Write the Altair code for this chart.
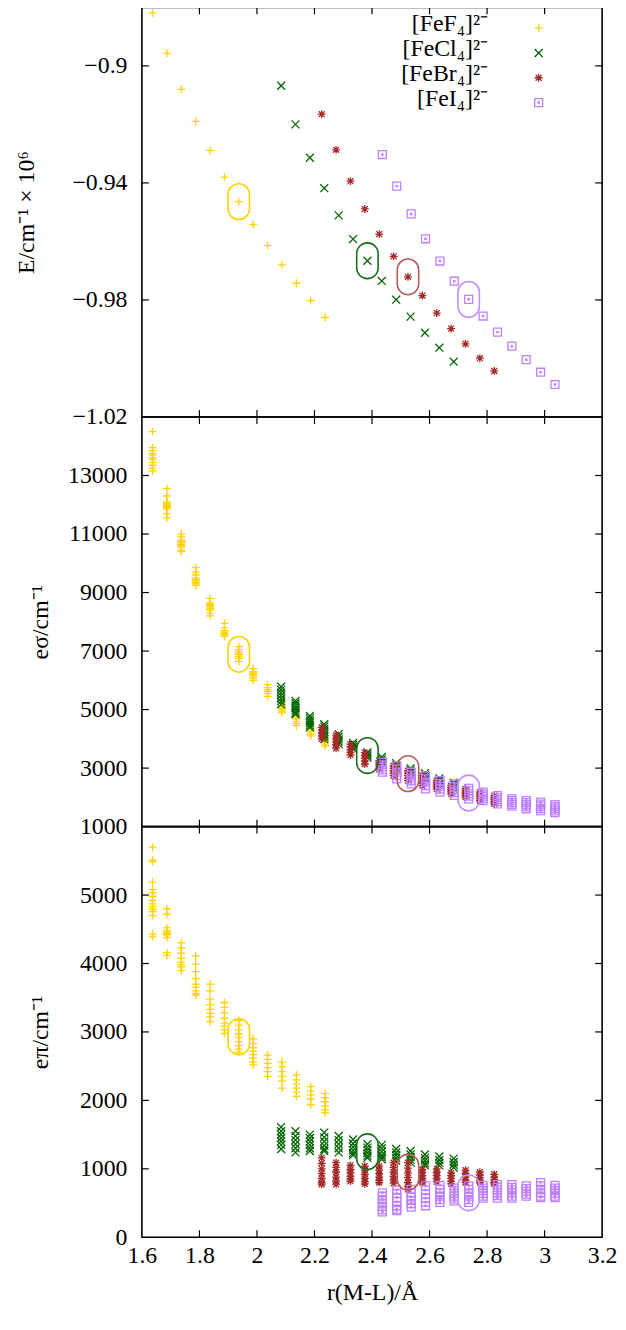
import altair as alt
import pandas as pd

FONT = "Liberation Serif"
SERIES = ["[FeF₄]²⁻", "[FeCl₄]²⁻", "[FeBr₄]²⁻", "[FeI₄]²⁻"]
COLORS = ["#ffd200", "#006400", "#a52a2a", "#bf80ff"]
HL_COLORS = ["#ffd200", "#1a6e1a", "#b85c5c", "#c490ff"]

PLUS = "M -1 0 L 1 0 M 0 -1 L 0 1"
CROSS = "M -1 -1 L 1 1 M -1 1 L 1 -1"
STAR = "M -1 0 L 1 0 M 0 -1 L 0 1 M -0.75 -0.75 L 0.75 0.75 M -0.75 0.75 L 0.75 -0.75"
SQDOT = "M -1 -1 L 1 -1 L 1 1 L -1 1 Z M -0.15 -0.15 L 0.15 -0.15 L 0.15 0.15 L -0.15 0.15 Z"
SHAPES = [PLUS, CROSS, STAR, SQDOT]
STADIUM = "M -0.6 -0.4 A 0.6 0.6 0 0 1 0.6 -0.4 L 0.6 0.4 A 0.6 0.6 0 0 1 -0.6 0.4 Z"

# ---- bond lengths (Angstrom) ----
r_F = [1.637, 1.687, 1.737, 1.787, 1.837, 1.887, 1.937, 1.987, 2.037, 2.087, 2.137, 2.187, 2.237]
r_Cl = [2.084, 2.134, 2.184, 2.234, 2.284, 2.334, 2.384, 2.434, 2.484, 2.534, 2.584, 2.634, 2.684]
r_Br = [2.225, 2.275, 2.325, 2.375, 2.425, 2.475, 2.525, 2.575, 2.625, 2.675, 2.725, 2.775, 2.825]
r_I = [2.436, 2.486, 2.536, 2.586, 2.636, 2.686, 2.736, 2.786, 2.836, 2.886, 2.936, 2.986, 3.036]

# ---- energies (cm^-1 x 10^6) ----
E_F = [-0.8819, -0.8957, -0.9080, -0.9190, -0.9289, -0.9380, -0.9464, -0.9542, -0.9614, -0.9680, -0.9743, -0.9802, -0.9860]
E_Cl = [-0.9068, -0.9200, -0.9314, -0.9418, -0.9511, -0.9592, -0.9666, -0.9735, -0.9799, -0.9857, -0.9912, -0.9963, -1.0011]
E_Br = [-0.9165, -0.9287, -0.9394, -0.9489, -0.9575, -0.9651, -0.9721, -0.9785, -0.9845, -0.9898, -0.9950, -0.9999, -1.0043]
E_I = [-0.9303, -0.9411, -0.9506, -0.9591, -0.9667, -0.9736, -0.9798, -0.9855, -0.9910, -0.9958, -1.0004, -1.0047, -1.0089]

# ---- e_sigma (cm^-1), several fits per bond length ----
es_F = [
    [14500, 13950, 13850, 13750, 13700, 13600, 13550, 13450, 13350, 13250, 13150],
    [12550, 12300, 12100, 12050, 12000, 11950, 11900, 11850, 11700, 11550],
    [11000, 10900, 10800, 10750, 10700, 10650, 10600, 10550, 10450, 10400],
    [9850, 9700, 9600, 9500, 9450, 9400, 9350, 9300, 9250],
    [8800, 8650, 8600, 8550, 8500, 8450, 8400, 8300, 8200],
    [7950, 7800, 7700, 7650, 7600, 7550, 7500],
    [7150, 7050, 6980, 6920, 6880, 6820, 6750, 6650],
    [6400, 6300, 6250, 6200, 6150, 6080, 6000],
    [5850, 5750, 5680, 5620, 5550, 5450],
    [5230, 5150, 5080, 5020, 4950, 4900],
    [4830, 4750, 4680, 4600, 4520, 4450],
    [4440, 4370, 4300, 4230, 4160, 4100],
    [4100, 4030, 3960, 3890, 3820, 3760],
]
es_Cl = [
    [5780, 5680, 5580, 5480, 5380, 5280, 5180],
    [5300, 5220, 5140, 5060, 4980, 4900, 4840],
    [4780, 4700, 4620, 4540, 4460, 4390],
    [4500, 4420, 4330, 4240, 4150, 4070, 3990],
    [4160, 4070, 3980, 3900, 3820],
    [3860, 3790, 3720, 3660],
    [3540, 3480, 3420, 3360],
    [3380, 3300, 3230, 3160],
    [3170, 3100, 3030, 2960],
    [2990, 2920, 2850, 2780],
    [2830, 2760, 2690, 2620],
    [2650, 2580, 2510, 2440],
    [2500, 2430, 2360, 2290],
]
es_Br = [
    [4390, 4300, 4200, 4100, 4000],
    [4130, 4000, 3900, 3800, 3680],
    [3820, 3720, 3630, 3540, 3450],
    [3530, 3430, 3340, 3240, 3140],
    [3250, 3180, 3110, 3040, 2970],
    [3080, 2990, 2910, 2820, 2740],
    [2910, 2830, 2740, 2660, 2570],
    [2740, 2660, 2570, 2490, 2400],
    [2570, 2500, 2430, 2360, 2290],
    [2400, 2330, 2260, 2190, 2120],
    [2290, 2220, 2150, 2080, 2010],
    [2180, 2110, 2040, 1960, 1890],
    [2060, 1990, 1920, 1850, 1780],
]
es_I = [
    [3200, 3110, 3030, 2940, 2860],
    [3080, 2970, 2860, 2750, 2630],
    [2860, 2760, 2660, 2560, 2460],
    [2740, 2630, 2520, 2400, 2290],
    [2570, 2470, 2380, 2280, 2180],
    [2460, 2360, 2260, 2160, 2070],
    [2310, 2220, 2130, 2040, 1950],
    [2180, 2110, 2040, 1960, 1890],
    [2060, 1990, 1920, 1850, 1780],
    [1950, 1890, 1820, 1760, 1700],
    [1890, 1820, 1750, 1680, 1610],
    [1840, 1770, 1700, 1620, 1550],
    [1750, 1680, 1610, 1540, 1480],
]

# ---- e_pi (cm^-1) ----
ep_F = [
    [5700, 5510, 5490, 5190, 5080, 5030, 4980, 4920, 4870, 4830, 4800, 4760, 4700, 4430, 4390],
    [4800, 4720, 4520, 4480, 4460, 4440, 4420, 4380, 4160, 4120],
    [4300, 4230, 4150, 4080, 4020, 3980, 3950, 3900],
    [4110, 3990, 3880, 3780, 3700, 3650, 3600, 3560, 3540],
    [3700, 3600, 3480, 3400, 3330, 3270, 3220, 3150],
    [3430, 3360, 3280, 3200, 3130, 3080, 3030, 2980],
    [3170, 3100, 3030, 2970, 2920, 2860, 2800, 2750, 2710],
    [2900, 2830, 2770, 2720, 2670, 2620, 2560, 2520],
    [2660, 2600, 2540, 2480, 2420, 2350],
    [2560, 2490, 2420, 2350, 2280, 2180],
    [2370, 2300, 2240, 2180, 2120, 2060],
    [2200, 2140, 2080, 2020, 1940],
    [2100, 2040, 1980, 1920, 1860, 1820],
]
ep_Cl = [
    [1610, 1550, 1500, 1450, 1400, 1350, 1290],
    [1550, 1480, 1420, 1360, 1300, 1240],
    [1500, 1450, 1400, 1350, 1300, 1260],
    [1530, 1460, 1400, 1340, 1290, 1260],
    [1480, 1420, 1360, 1300, 1240],
    [1430, 1370, 1320, 1270, 1230, 1200],
    [1360, 1310, 1270, 1230, 1190, 1160],
    [1350, 1300, 1250, 1200, 1170, 1140],
    [1290, 1240, 1200, 1160, 1120],
    [1260, 1210, 1170, 1130, 1090],
    [1210, 1160, 1120, 1080, 1050],
    [1180, 1130, 1090, 1050],
    [1150, 1100, 1060, 1020],
]
ep_Br = [
    [1160, 1080, 1000, 930, 860, 800, 775],
    [1090, 1020, 950, 880, 820, 775],
    [1050, 990, 940, 890, 850, 820],
    [1040, 980, 920, 860, 810, 780],
    [1040, 980, 930, 880, 830, 800],
    [1090, 1020, 950, 890, 840, 790],
    [1090, 1010, 940, 870, 800, 740, 700],
    [990, 940, 900, 860, 820, 800],
    [1000, 950, 900, 860, 810],
    [940, 900, 860, 820, 780],
    [980, 930, 880, 840, 800],
    [950, 910, 870, 830, 800],
    [920, 880, 840, 800, 780],
]
ep_I = [
    [650, 600, 550, 500, 450, 400, 370],
    [690, 640, 580, 520, 460, 410, 390],
    [700, 650, 590, 540, 490, 440],
    [750, 690, 630, 570, 510, 460],
    [760, 700, 650, 600, 550, 510],
    [720, 680, 640, 600, 560, 530],
    [750, 700, 650, 600, 550, 510],
    [760, 720, 680, 640, 600, 570],
    [770, 730, 690, 650, 610, 570],
    [770, 730, 690, 650, 600, 570],
    [750, 710, 670, 630, 600],
    [800, 750, 700, 650, 600, 580],
    [760, 720, 680, 640, 600, 580],
]

# highlighted (reference) points, one per complex
HL_R = [1.937, 2.384, 2.525, 2.736]
HL_E = [-0.9464, -0.9666, -0.9721, -0.9798]
HL_ES = [6890, 3430, 2810, 2150]
HL_EP = [2930, 1250, 950, 650]

X_LABELS = [1.6, 1.8, 2.0, 2.2, 2.4, 2.6, 2.8, 3.0, 3.2]
X_TICKS = [1.8, 2.0, 2.2, 2.4, 2.6, 2.8, 3.0]
Y1_LABELS = [-1.02, -0.98, -0.94, -0.9]
Y1_TICKS = [-0.98, -0.94, -0.9]
Y2_LABELS = [1000, 3000, 5000, 7000, 9000, 11000, 13000]
Y2_TICKS = [3000, 5000, 7000, 9000, 11000, 13000]
Y3_LABELS = [0, 1000, 2000, 3000, 4000, 5000]
Y3_TICKS = [1000, 2000, 3000, 4000, 5000]

R_ALL = [r_F, r_Cl, r_Br, r_I]


def scalar_df(vals):
    rows = []
    for s, rs, vs in zip(SERIES, R_ALL, vals):
        for r, v in zip(rs, vs):
            rows.append({"series": s, "r": r, "v": v})
    return pd.DataFrame(rows)


def cluster_df(vals):
    rows = []
    for s, rs, vs in zip(SERIES, R_ALL, vals):
        for r, group in zip(rs, vs):
            for v in group:
                rows.append({"series": s, "r": r, "v": v})
    return pd.DataFrame(rows)


W = 464
TICK = 7
LBL = 24

color_enc = alt.Color("series:N", scale=alt.Scale(domain=SERIES, range=COLORS), legend=None)
shape_enc = alt.Shape("series:N", scale=alt.Scale(domain=SERIES, range=SHAPES), legend=None)


def panel(df, hl_vals, ydom, ylabels, yticks, yfmt, ytitle, title_x, height, x_axis):
    xs = alt.Scale(domain=[1.6, 3.2], nice=False, zero=False)
    ys = alt.Scale(domain=ydom, nice=False, zero=False)
    y_axis = alt.Axis(orient="left", values=ylabels, format=yfmt, ticks=False, tickSize=0, domain=False,
                      grid=False, labelFont=FONT, labelFontSize=LBL, labelColor="black", labelPadding=15,
                      labelFlush=False, labelOverlap=False,
                      title=ytitle, titleFont=FONT, titleFontSize=24, titleFontWeight="normal",
                      titleColor="black", titleX=title_x, titleY=height / 2, titleAngle=270,
                      titleAlign="center", titleBaseline="middle")
    # identical encodings in every layer so that Vega-Lite merges the axes cleanly
    x_enc = alt.X("r:Q", scale=xs, axis=x_axis)
    y_enc = alt.Y("v:Q", scale=ys, axis=y_axis)

    pts = alt.Chart(df).mark_point(filled=False, size=64, strokeWidth=1.3, opacity=1).encode(
        x=x_enc, y=y_enc, color=color_enc, shape=shape_enc,
    )
    layers = [pts]
    for i, s in enumerate(SERIES):
        hdf = pd.DataFrame({"r": [HL_R[i]], "v": [hl_vals[i]]})
        layers.append(alt.Chart(hdf).mark_point(shape=STADIUM, size=1296, filled=False,
                                                strokeWidth=1.6, opacity=1, color=HL_COLORS[i])
                      .encode(x=x_enc, y=y_enc))
    yt = pd.DataFrame({"v": yticks})
    xt = pd.DataFrame({"r": X_TICKS})
    rule = dict(color="black", strokeWidth=1.2)
    layers.append(alt.Chart(yt).mark_rule(**rule).encode(y=y_enc, x=alt.value(0), x2=alt.value(TICK)))
    layers.append(alt.Chart(yt).mark_rule(**rule).encode(y=y_enc, x=alt.value(W - TICK), x2=alt.value(W)))
    layers.append(alt.Chart(xt).mark_rule(**rule).encode(x=x_enc, y=alt.value(0), y2=alt.value(TICK)))
    layers.append(alt.Chart(xt).mark_rule(**rule).encode(x=x_enc, y=alt.value(height - TICK), y2=alt.value(height)))
    return alt.layer(*layers)


# key (gnuplot style: text right-justified, sample to its right)
leg_df = pd.DataFrame({"series": SERIES})
leg_y = alt.Y("series:N", scale=alt.Scale(domain=SERIES, range=[21, 96], padding=0), axis=None)
leg_text = alt.Chart(leg_df).mark_text(align="right", baseline="middle", font=FONT, fontSize=24,
                                       dy=-4, color="black").encode(
    y=leg_y, x=alt.value(349), text="series:N")
leg_sym = alt.Chart(leg_df).mark_point(filled=False, size=64, strokeWidth=1.3, opacity=1).encode(
    y=leg_y, x=alt.value(400), color=color_enc, shape=shape_enc)

x_bottom_axis = alt.Axis(orient="bottom", values=X_LABELS, format="~g", ticks=False, tickSize=0,
                         domain=False, grid=False,
                         labelFont=FONT, labelFontSize=LBL, labelColor="black", labelPadding=6,
                         labelFlush=False, labelOverlap=False,
                         title="r(M-L)/Å", titleFont=FONT, titleFontSize=24, titleFontWeight="normal",
                         titleColor="black", titleY=56, titleBaseline="middle")

top_inner = panel(scalar_df([E_F, E_Cl, E_Br, E_I]), HL_E, [-1.02, -0.88], Y1_LABELS, Y1_TICKS, ".2~f",
                  "E/cm⁻¹ × 10⁶", -116, 413, None)
top = (alt.layer(top_inner, leg_text, leg_sym)
       .resolve_scale(y="independent")
       .properties(width=W, height=413))
mid = panel(cluster_df([es_F, es_Cl, es_Br, es_I]), HL_ES, [1000, 15000], Y2_LABELS, Y2_TICKS, "d",
            "eσ/cm⁻¹", -102, 413, None).properties(width=W, height=413)
bot = panel(cluster_df([ep_F, ep_Cl, ep_Br, ep_I]), HL_EP, [0, 6000], Y3_LABELS, Y3_TICKS, "d",
            "eπ/cm⁻¹", -102, 414, x_bottom_axis).properties(width=W, height=414)

chart = (
    alt.vconcat(top, mid, bot, spacing=0, bounds="flush")
    .configure_view(stroke="black", strokeWidth=1.6)
    .properties(padding={"left": 6, "top": -8, "right": 0, "bottom": 0}, background="white")
)

chart.save("out.html", embed_options={"renderer": "svg", "actions": False})
